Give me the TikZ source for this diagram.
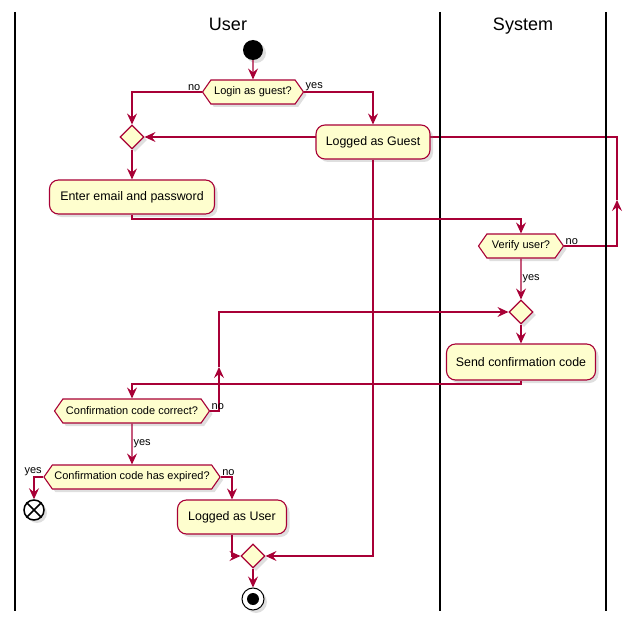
\documentclass[tikz,border=0pt]{standalone}
\usepackage{fontspec}
\setmainfont{Liberation Sans}
\usetikzlibrary{shapes.geometric, shapes.symbols, arrows.meta, shadows, backgrounds}
\definecolor{umlred}{HTML}{A80036}
\definecolor{umlfill}{HTML}{FEFECE}
\tikzstyle{shade} = [drop shadow={shadow xshift=3pt, shadow yshift=-3pt, opacity=0.25}]
\tikzstyle{activity} = [rectangle, rounded corners=9pt, minimum height=34pt, inner xsep=6pt, text centered, draw=umlred, fill=umlfill, line width=1.1pt, font=\fontsize{12.4}{14}\selectfont, shade]
\tikzstyle{decision} = [signal, signal to=west and east, signal pointer angle=110, minimum height=24pt, inner xsep=2pt, text centered, draw=umlred, fill=umlfill, line width=1.1pt, font=\fontsize{11}{13}\selectfont, shade]
\tikzstyle{merge} = [diamond, minimum width=24pt, minimum height=24pt, inner sep=0pt, draw=umlred, fill=umlfill, line width=1.1pt, shade]
\tikzstyle{arrow} = [umlred, line width=1.1pt, -{Stealth[length=11pt, width=10pt, inset=4pt]}]
\tikzstyle{branch} = [font=\fontsize{11}{13}\selectfont, inner sep=1pt, text=black]
\tikzstyle{lane} = [black, line width=1.7pt]
\tikzstyle{title} = [font=\fontsize{18}{20}\selectfont, anchor=base]

\begin{document}
\begin{tikzpicture}[x=1pt, y=-1pt]
\useasboundingbox (0,0) rectangle (641,626);
% swimlanes
\draw[lane] (15,12) -- (15,611);
\draw[lane] (440,12) -- (440,611);
\draw[lane] (606,12) -- (606,611);
\node[title] (usertitle) at (228,31) {User};
\node[title] (systitle) at (523,31) {System};

\node[circle, fill=black, minimum size=20pt, inner sep=0pt, shade] (start) at (253,50) {};
\node[decision, minimum width=101pt] (login) at (253,92) {Login as guest?};
\node[merge] (merge1) at (132,137) {};
\node[activity, minimum width=114pt] (guest) at (373,142) {Logged as Guest};
\node[activity, minimum width=165pt] (email) at (132,197) {Enter email and password};
\node[decision, minimum width=85pt] (verify) at (521,246) {Verify user?};
\node[merge] (merge2) at (521,312) {};
\node[activity, minimum width=149pt, minimum height=36pt] (send) at (521,362) {Send confirmation code};
\node[decision, minimum width=155pt] (correct) at (132,411) {Confirmation code correct?};
\node[decision, minimum width=176pt] (expired) at (132,477) {Confirmation code has expired?};
\node[circle, draw=black, fill=white, line width=1.5pt, minimum size=20pt, inner sep=0pt, shade] (endx) at (34,510) {};
\draw[black, line width=1.5pt] (endx.45) -- (endx.225) (endx.135) -- (endx.315);
\node[activity, minimum width=109pt] (user) at (232,517) {Logged as User};
\node[merge] (merge3) at (253,556) {};
\node[circle, draw=black, fill=white, line width=1pt, minimum size=22pt, inner sep=0pt, shade] (stop) at (253,599) {};
\node[circle, fill=black, minimum size=12pt, inner sep=0pt] (stopdot) at (253,599) {};

\coordinate (c1) at (521,219);
\coordinate (c2) at (132,384);
\coordinate (up1) at (219,367);
\coordinate (up2) at (617,200);

% connectors
\draw[arrow] (start) -- (login);
\draw[arrow] (login.west) -| node[pos=0, anchor=south east, branch] {no} (merge1.north);
\draw[arrow] (login.east) -| node[pos=0, anchor=south west, branch] {yes} (guest.north);
\draw[arrow] (merge1) -- (email);
\draw[arrow] (email.south) |- (c1) -- (verify.north);
\begin{scope}[on background layer]
\draw[arrow] (verify.east) -| node[pos=0, anchor=south west, branch] {no} (up2);
\draw[arrow] (up2) |- (merge1.east);
\end{scope}
\draw[arrow] (verify) -- node[right, branch] {yes} (merge2);
\draw[arrow] (merge2) -- (send);
\draw[arrow] (send.south) |- (c2) -- (correct.north);
\draw[arrow] (correct.east) -| node[pos=0, anchor=south west, branch] {no} (up1);
\draw[arrow] (up1) |- (merge2.west);
\draw[arrow] (correct) -- node[right, branch] {yes} (expired);
\draw[arrow] (expired.west) -| node[pos=0, anchor=south east, branch] {yes} (endx.north);
\draw[arrow] (expired.east) -| node[pos=0, anchor=south west, branch] {no} (user.north);
\draw[arrow] (user.south) |- (merge3.west);
\draw[arrow] (guest.south) |- (merge3.east);
\draw[arrow] (merge3) -- (stop);
\end{tikzpicture}
\end{document}
